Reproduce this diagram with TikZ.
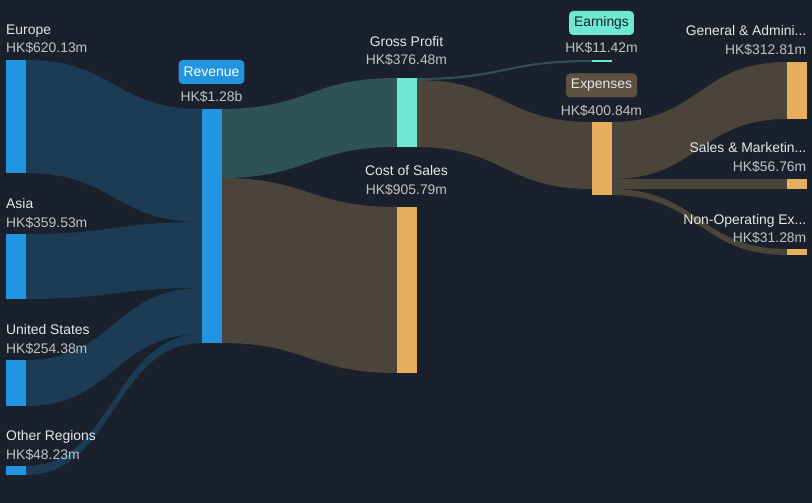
\documentclass[tikz,border=0pt]{standalone}
\usepackage{fontspec}
\setmainfont{Liberation Sans}
\definecolor{bg}{HTML}{1B212C}
\definecolor{barblue}{HTML}{2394DF}
\definecolor{barteal}{HTML}{6EE8D2}
\definecolor{barorange}{HTML}{E6AD5C}
\definecolor{flowblue}{HTML}{1C3C55}
\definecolor{flowteal}{HTML}{2F5257}
\definecolor{flowbrown}{HTML}{4A443A}
\definecolor{badgebrown}{HTML}{5F5140}
\definecolor{namecol}{HTML}{E4E7EB}
\definecolor{valcol}{HTML}{BEC2C8}
\begin{document}
\begin{tikzpicture}[x=1pt,y=-1pt,line join=round,
	lbl/.style={inner sep=0pt,text=namecol,font=\fontsize{13.9}{16}\selectfont},
	val/.style={inner sep=0pt,text=valcol,font=\fontsize{13.9}{16}\selectfont},
	badge/.style={rounded corners=4pt,inner xsep=5pt,minimum height=24pt,font=\fontsize{13.9}{16}\selectfont}]
	\fill[bg] (0,0) rectangle (812,503);
	\useasboundingbox (0,0) rectangle (812,503);
	% flows: x1/top1/bottom1/x2/top2/bottom2/colour
	\foreach \xa/\ta/\ba/\xb/\tb/\bb/\c in {26/60/173/202/109/222/flowblue,26/234/299/202/222/288/flowblue,26/360/406/202/288/334/flowblue,26/466/475/202/334/343/flowblue,221/109/178/397/78/147/flowteal,221/178/343/397/207/373/flowbrown,416/78/80/592/60/62/flowteal,416/80/147/592/122/189/flowbrown,611/122/179/787/62/119/flowbrown,611/179/189/787/179/189/flowbrown,611/189/195/787/249/255/flowbrown}
	\fill[\c] (\xa,\ta) .. controls ({(\xa+\xb)/2},\ta) and ({(\xa+\xb)/2},\tb) .. (\xb,\tb) -- (\xb,\bb) .. controls ({(\xa+\xb)/2},\bb) and ({(\xa+\xb)/2},\ba) .. (\xa,\ba) -- cycle;
	% bars
	\foreach \xa/\ta/\ba/\c in {6/60/173/barblue,6/234/299/barblue,6/360/406/barblue,6/466/475/barblue,202/109/343/barblue,397/78/147/barteal,397/207/373/barorange,592/60/62/barteal,592/122/195/barorange,787/62/119/barorange,787/179/189/barorange,787/249/255/barorange}
	\fill[\c] (\xa,\ta) rectangle ({\xa+19.5},\ba);
	% left labels
	\node[lbl,anchor=base west] (eu) at (6,34.5) {Europe};
	\node[val,anchor=base west] (euv) at (6,53) {HK\$620.13m};
	\node[lbl,anchor=base west] (as) at (6,208) {Asia};
	\node[val,anchor=base west] (asv) at (6,227) {HK\$359.53m};
	\node[lbl,anchor=base west] (us) at (6,334) {United States};
	\node[val,anchor=base west] (usv) at (6,353) {HK\$254.38m};
	\node[lbl,anchor=base west] (ot) at (6,440) {Other Regions};
	\node[val,anchor=base west] (otv) at (6,459) {HK\$48.23m};
	% middle labels
	\node[badge,fill=barblue,text=white] (rev) at (211.5,72) {Revenue};
	\node[val,anchor=base] (revv) at (211.5,101.5) {HK\$1.28b};
	\node[lbl,anchor=base] (gp) at (406.5,46.5) {Gross Profit};
	\node[val,anchor=base] (gpv) at (406.5,65) {HK\$376.48m};
	\node[lbl,anchor=base] (cs) at (406.5,175.5) {Cost of Sales};
	\node[val,anchor=base] (csv) at (406.5,194) {HK\$905.79m};
	\node[badge,fill=barteal,text=bg] (ear) at (601.5,23) {Earnings};
	\node[val,anchor=base] (earv) at (601.5,52.5) {HK\$11.42m};
	\node[badge,fill=badgebrown,text=namecol] (exp) at (601.5,85.5) {Expenses};
	\node[val,anchor=base] (expv) at (601.5,115) {HK\$400.84m};
	% right labels
	\node[lbl,anchor=base east] (ga) at (806.5,36) {General \& Admini...};
	\node[val,anchor=base east] (gav) at (806.5,54.5) {HK\$312.81m};
	\node[lbl,anchor=base east] (sm) at (806.5,152.5) {Sales \& Marketin...};
	\node[val,anchor=base east] (smv) at (806.5,171.5) {HK\$56.76m};
	\node[lbl,anchor=base east] (no) at (806.5,224) {Non-Operating Ex...};
	\node[val,anchor=base east] (nov) at (806.5,242.5) {HK\$31.28m};
\end{tikzpicture}
\end{document}
